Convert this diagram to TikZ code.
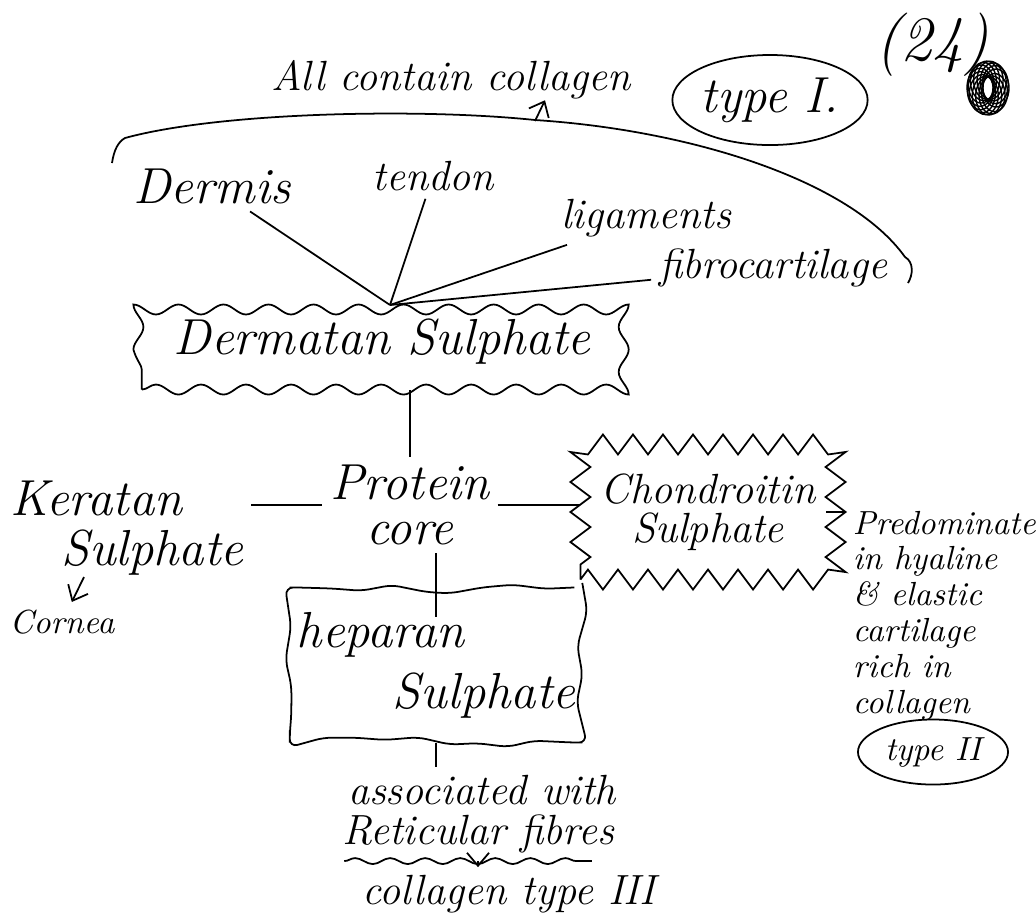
\documentclass[tikz,border=0pt]{standalone}
\usetikzlibrary{shapes.geometric,decorations.pathmorphing,arrows.meta}
\begin{document}
\begin{tikzpicture}[x=0.01cm,y=-0.01cm,>={Straight Barb[length=1.3mm,width=2.2mm]},line width=0.5pt,inner sep=2pt,
	txtL/.style={font=\fontsize{14.4}{13}\selectfont\itshape},
	txtM/.style={font=\fontsize{12}{11}\selectfont\itshape},
	txtS/.style={font=\fontsize{9.5}{10.2}\selectfont\itshape},
	wavy/.style={draw,decorate,decoration={snake,amplitude=0.05cm,segment length=0.45cm}},
	spiky/.style={draw,decorate,decoration={zigzag,amplitude=0.1cm,segment length=0.3cm}},
	lumpy/.style={draw,decorate,decoration={random steps,amplitude=0.06cm,segment length=0.3cm},rounded corners=0.08cm},
	ring/.style={draw,ellipse,inner sep=0pt}]
	\pgfmathsetseed{7}
	\useasboundingbox (0,0) rectangle (1036,920);
	% top line
	\node[txtM,inner sep=0pt] (all) at (451,80) {All contain collagen};
	\node[ring,txtL,minimum width=1.85cm,minimum height=0.9cm] (typeI) at (770,100) {type I.};
	\node[font=\fontsize{18}{18}\selectfont\itshape] (page) at (932,45) {(24)};
	\coordinate (scrib) at (988,88);
	\foreach \a in {0,25,...,335}{\draw[line width=0.4pt] ([shift={(\a:0.08cm)}]scrib) ellipse (0.13cm and 0.19cm);}
	\draw (112,163) .. controls (114,150) and (118,142) .. (125,138) .. controls (220,112) and (420,108) .. (535,120)
		.. controls (690,130) and (850,180) .. (905,257) .. controls (914,262) and (913,275) .. (908,283);
	\coordinate (up) at (535,121);
	\draw[->] (up) -- ([xshift=0.1cm]up |- all.south);
	% tissues
	\node[txtL] (dermis) at (212,186) {Dermis};
	\node[txtM] (tendon) at (433,176) {tendon};
	\node[txtM] (lig) at (646,218) {ligaments};
	\node[txtM] (fibro) at (773,268) {fibrocartilage};
	\node[wavy,txtL,minimum width=4.8cm,minimum height=0.95cm] (derm) at (382,342) {Dermatan Sulphate};
	\coordinate (hub) at (390,305);
	\foreach \t in {dermis,tendon,lig,fibro}{\draw (hub) -- (\t);}
	% core
	\node[txtL,align=center] (prot) at (410,505) {Protein\\core};
	\node[txtL,align=left] (kera) at (127,528) {Keratan\\[0.05cm]\hspace{1em}Sulphate};
	\node[spiky,txtM,align=center,minimum width=2.55cm,minimum height=1.35cm] (chon) at (708,512) {Chondroitin\\Sulphate};
	\node[lumpy,txtL,align=left,minimum width=2.9cm,minimum height=1.55cm] (hep) at (436,665) {heparan\\[0.15cm]\hspace{1.9em}Sulphate};
	\draw (derm.south -| prot) -- (prot);
	\draw (prot.west -| kera.east) -- (prot.west);
	\draw (prot.east) -- (prot.east -| chon.west);
	\draw (hep.north |- prot.south) -- ([yshift=-0.3cm]hep.north);
	% cornea
	\node[txtS] (cornea) at (62,622) {Cornea};
	\coordinate (kc) at (84,577);
	\draw[->] (kc) -- (cornea);
	% right column
	\node[txtS,align=left,anchor=north west] (pred) at (845,503) {Predominate\\in hyaline\\\& elastic\\cartilage\\rich in\\collagen};
	\node[ring,txtS,minimum width=1.5cm,minimum height=0.65cm] (typeII) at (933,752) {type II};
	\draw ([xshift=-0.1cm]chon.east) -- (chon.east -| pred.west);
	% bottom
	\node[txtM] (assoc) at (482,790) {associated with};
	\node[txtM] (retic) at (478,834) {Reticular fibres};
	\node[txtM] (coll3) at (509,894) {collagen type III};
	\draw (hep.south) -- (hep.south |- assoc.north);
	\draw[decorate,decoration={snake,amplitude=0.03cm,segment length=0.35cm}] ([xshift=0.1cm]retic.south west) -- ([xshift=-0.3cm]retic.south east);
	\draw[->] (retic.south) -- (retic.south |- coll3.north);
\end{tikzpicture}
\end{document}
